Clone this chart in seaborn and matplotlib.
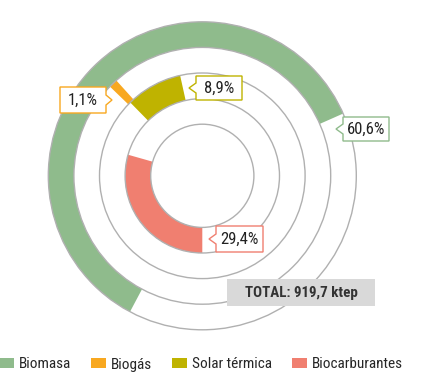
import matplotlib
matplotlib.use("Agg")
import matplotlib.pyplot as plt
import seaborn as sns
from matplotlib import font_manager
from matplotlib.patches import Circle, Polygon, Rectangle, Patch

# ---- data ----
categories = ["Biomasa", "Biogás", "Solar térmica", "Biocarburantes"]
shares = [60.6, 1.1, 8.9, 29.4]
colors = ["#8fbb8c", "#f8a820", "#bfb300", "#f07f70"]
total_label = "TOTAL: 919,7 ktep"

# ---- style / layout ----
sns.set_theme(style="white")
available = {f.name for f in font_manager.fontManager.ttflist}
narrow = None
for cand in ["Roboto Condensed", "Liberation Sans Narrow", "Arial Narrow",
             "DejaVu Sans Condensed", "Open Sans Condensed", "Roboto"]:
    if cand in available:
        narrow = cand
        break
FONT = [narrow or "DejaVu Sans", "DejaVu Sans"]
plt.rcParams["font.family"] = FONT

W, H = 421, 382
fig = plt.figure(figsize=(W / 100, H / 100), dpi=100)
ax = fig.add_axes([0, 0, 1, 1])

cx, cy = 202.3, 175.8
r_outer = 154.0
ring_w = 25.6
start_angles = [208, 314, 315.5, 180]  # clockwise from north (visual)

for i, (cat, val, col) in enumerate(zip(categories, shares, colors)):
    r = r_outer - i * ring_w
    ax.pie([val, 100 - val], radius=r, center=(cx, cy),
           startangle=start_angles[i] - 90, counterclock=True,
           colors=[col, "none"],
           wedgeprops=dict(width=ring_w, linewidth=0))

for i in range(5):
    ax.add_patch(Circle((cx, cy), r_outer - i * ring_w, fill=False,
                        edgecolor="#b0b0b0", linewidth=1.0, zorder=5))

# callout labels
label_boxes = [
    ((343, 117, 389, 141), "left", (336, 129)),
    ((60, 87, 106, 113), "right", (112, 100)),
    ((196, 76, 242, 100), "left", (189, 88)),
    ((216, 226, 263, 252), "left", (209, 239)),
]
for (box, side, tip), val, col in zip(label_boxes, shares, colors):
    x0, y0, x1, y1 = box
    tx, ty = tip
    h = 5
    if side == "left":
        pts = [(x0, y0), (x1, y0), (x1, y1), (x0, y1), (x0, ty + h), (tx, ty), (x0, ty - h)]
    else:
        pts = [(x0, y0), (x1, y0), (x1, ty - h), (tx, ty), (x1, ty + h), (x1, y1), (x0, y1)]
    ax.add_patch(Polygon(pts, closed=True, facecolor="white", edgecolor=col,
                         linewidth=1.0, zorder=8))
    txt = f"{val:.1f}".replace(".", ",") + "%"
    ax.text((x0 + x1) / 2, (y0 + y1) / 2 + 0.5, txt, ha="center", va="center",
            fontsize=12, color="#222222", zorder=9)

# total box
ax.add_patch(Rectangle((226.7, 279), 148.3, 26.7, facecolor="#d9d9d9",
                       edgecolor="none", zorder=8))
ax.text(301, 292.5, total_label, ha="center", va="center", fontsize=10.8,
        fontweight="bold", color="#333333", zorder=9)

# legend
handles = [Patch(facecolor=c, edgecolor="none", label=l) for l, c in zip(categories, colors)]
ax.legend(handles=handles, loc="center left", bbox_to_anchor=(-0.002, (H - 364.5) / H),
          ncol=4, frameon=False, fontsize=11, handlelength=0.98, handleheight=0.65,
          handletextpad=0.33, columnspacing=1.3, borderpad=0, borderaxespad=0)

ax.set_xlim(0, W)
ax.set_ylim(H, 0)
ax.set_aspect("equal")
ax.axis("off")
fig.savefig("out.png", dpi=100)
